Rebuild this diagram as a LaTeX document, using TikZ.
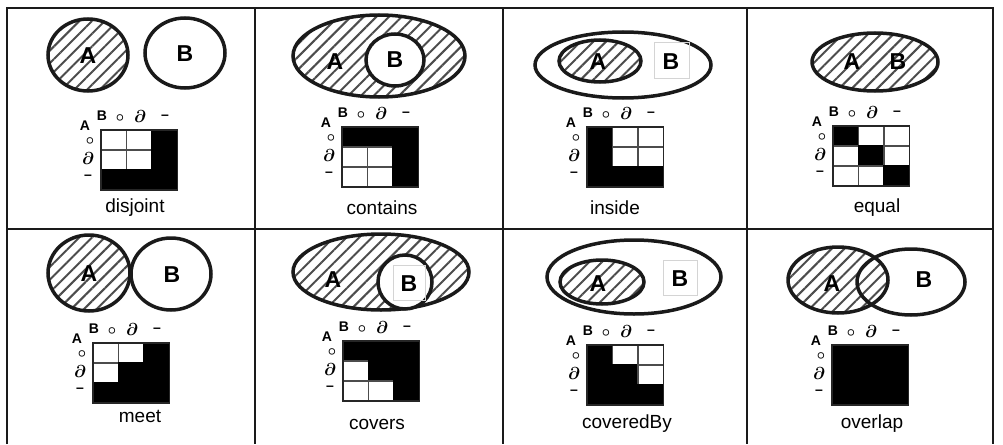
\documentclass[tikz,border=0pt]{standalone}
\usepackage{fontspec}
\setmainfont{Liberation Sans}
\usepackage{tikz}
\usetikzlibrary{patterns.meta}
\colorlet{im0}{white}
\colorlet{im1}{black}
\colorlet{ed0}{black!70}
\colorlet{ed1}{black}
\definecolor{InkGray}{HTML}{1A1A1A}
\definecolor{FaintGray}{HTML}{D4D4D4}

% 9-intersection matrix: name, x, y (top left), nine entries row by row
\newcommand{\ninebox}[4]{%
  \foreach \v [count=\k from 0] in {#4} {
    \pgfmathtruncatemacro{\rw}{\k/3}
    \pgfmathtruncatemacro{\cl}{\k-3*\rw}
    \filldraw[imcell,fill=im\v,draw=ed\v] ({#2+25.5*\cl},{#3+20*\rw}) rectangle +(25.5,20);
  }
  \draw[imbox] (#2,#3) rectangle +(76.5,60);
  \node[imhead] (#1-b) at ({#2+1},{#3-14}) {\textbf{B}};
  \node[imring] (#1-bi) at ({#2+19},{#3-12}) {$\circ$};
  \node[imsym] (#1-bb) at ({#2+39},{#3-14}) {$\partial$};
  \node[imhead] (#1-be) at ({#2+64},{#3-13}) {\textbf{--}};
  \node[imhead] (#1-a) at ({#2-16},{#3-4}) {\textbf{A}};
  \node[imring] (#1-ai) at ({#2-11},{#3+11}) {$\circ$};
  \node[imsym] (#1-ab) at ({#2-13},{#3+28}) {$\partial$};
  \node[imhead] (#1-ae) at ({#2-13},{#3+47}) {\textbf{--}};
}

\begin{document}
\begin{tikzpicture}[x=1pt,y=-1pt]
  \tikzstyle{frame}=[draw=InkGray,line width=2pt]
  \tikzstyle{region}=[draw=InkGray,line width=3.5pt]
  \tikzstyle{hatch}=[pattern={Lines[angle=45,distance=9pt,line width=2pt]},
    pattern color=black!70]
  \tikzstyle{regname}=[inner sep=0pt,font=\fontsize{23}{23}\selectfont\bfseries]
  \tikzstyle{relname}=[inner sep=0pt,font=\fontsize{19}{19}\selectfont]
  \tikzstyle{imcell}=[line width=1.2pt]
  \tikzstyle{imbox}=[draw=black!85,line width=1.3pt]
  \tikzstyle{imhead}=[inner sep=0pt,font=\fontsize{14}{14}\selectfont]
  \tikzstyle{imsym}=[inner sep=0pt,font=\fontsize{18}{18}\selectfont\boldmath]
  \tikzstyle{imring}=[inner sep=0pt,font=\fontsize{15}{15}\selectfont\boldmath]
  \tikzstyle{ghost}=[draw=FaintGray,line width=0.6pt]
  \useasboundingbox (0,0) rectangle (1003,444);

  % table
  \draw[frame] (7,444) -- (7,8) -- (993,8) -- (993,444);
  \draw[frame] (255,8) -- (255,444);
  \draw[frame] (503,8) -- (503,444);
  \draw[frame] (747,8) -- (747,444);
  \draw[frame] (7,229) -- (993,229);

  % disjoint
  \draw[region,hatch] (88,55) ellipse [x radius=40pt,y radius=36pt];
  \draw[region] (185,53) ellipse [x radius=40pt,y radius=35pt];
  \node[regname] (dj-A) at (88,56) {A};
  \node[regname] (dj-B) at (185,54) {B};
  \ninebox{dj}{101}{130}{0,0,1,0,0,1,1,1,1}
  \node[relname] (dj) at (135,208) {disjoint};

  % contains
  \draw[region,hatch] (379,56) ellipse [x radius=86pt,y radius=41pt];
  \draw[region,fill=white] (395,60) ellipse [x radius=29pt,y radius=26pt];
  \node[regname] (ct-A) at (335,62) {A};
  \node[regname] (ct-B) at (395,60) {B};
  \ninebox{ct}{342}{127}{1,1,1,0,0,1,0,0,1}
  \node[relname] (ct) at (382,208) {contains};

  % inside
  \draw[region] (623,65) ellipse [x radius=88pt,y radius=33pt];
  \draw[region,hatch] (600,61) ellipse [x radius=41pt,y radius=21pt];
  \draw[ghost] (654,42) rectangle (689,78);
  \node[regname] (in-A) at (598,62) {A};
  \node[regname] (in-B) at (671,62) {B};
  \ninebox{in}{587}{127}{1,0,0,1,0,0,1,1,1}
  \node[relname] (in) at (615,208) {inside};

  % equal
  \draw[region,hatch] (875,62) ellipse [x radius=63pt,y radius=29pt];
  \node[regname] (eq-A) at (852,62) {A};
  \node[regname] (eq-B) at (898,62) {B};
  \ninebox{eq}{833}{126}{1,0,0,0,1,0,0,0,1}
  \node[relname] (eq) at (877,208) {equal};

  % meet
  \draw[region,hatch] (89,273) ellipse [x radius=41pt,y radius=38pt];
  \draw[region] (171,274) ellipse [x radius=40pt,y radius=36pt];
  \node[regname] (mt-A) at (89,274) {A};
  \node[regname] (mt-B) at (172,275) {B};
  \ninebox{mt}{93}{343}{0,0,1,0,1,1,1,1,1}
  \node[relname] (mt) at (140,416) {meet};

  % covers
  \draw[region,hatch] (381,272) ellipse [x radius=88pt,y radius=38pt];
  \draw[region,fill=white] (405,282) ellipse [x radius=27pt,y radius=27pt];
  \draw[ghost] (393,265) rectangle (425,300);
  \node[regname] (cv-A) at (333,280) {A};
  \node[regname] (cv-B) at (409,284) {B};
  \ninebox{cv}{343}{341}{1,1,1,0,1,1,0,0,1}
  \node[relname] (cv) at (377,424) {covers};

  % coveredBy
  \draw[region] (634,277) ellipse [x radius=87pt,y radius=37pt];
  \draw[region,hatch] (602,282) ellipse [x radius=42pt,y radius=22pt];
  \draw[ghost] (663,260) rectangle (697,295);
  \node[regname] (cb-A) at (598,284) {A};
  \node[regname] (cb-B) at (680,279) {B};
  \ninebox{cb}{587}{345}{1,0,0,1,1,0,1,1,1}
  \node[relname] (cb) at (627,424) {coveredBy};

  % overlap
  \draw[region,hatch] (838,280) ellipse [x radius=50pt,y radius=33pt];
  \draw[region] (911,282) ellipse [x radius=54pt,y radius=33pt];
  \node[regname] (ov-A) at (832,284) {A};
  \node[regname] (ov-B) at (924,280) {B};
  \ninebox{ov}{832}{345}{1,1,1,1,1,1,1,1,1}
  \node[relname] (ov) at (872,424) {overlap};
\end{tikzpicture}
\end{document}
